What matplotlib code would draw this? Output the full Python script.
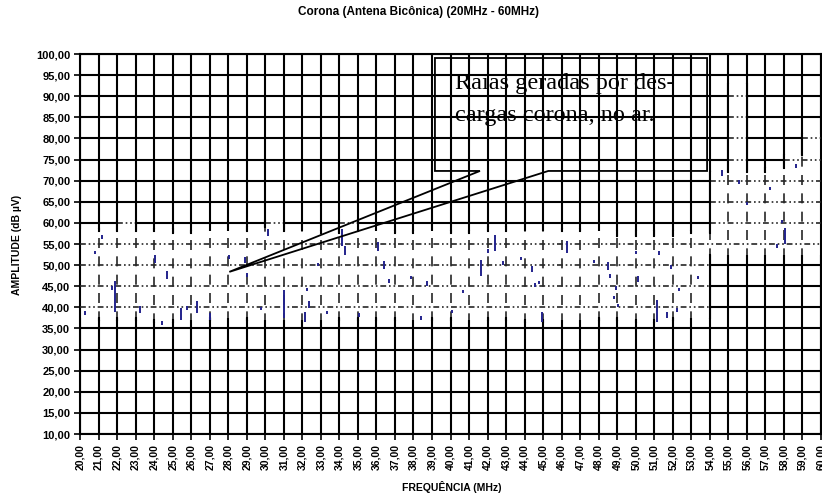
import matplotlib.pyplot as plt
import numpy as np
from matplotlib.patches import Polygon

plt.rcParams['font.family'] = ['Liberation Sans', 'DejaVu Sans']

freq_ticks = np.arange(20, 61, 1)
amp_ticks = np.arange(10, 101, 5)

# noise floor envelope, one value per 1 MHz bin (20-21 ... 59-60)
band_lo = [37.5, 37, 37.5, 37, 36.5, 37, 37, 37.5, 37.5, 37,
           37, 37, 37, 37, 37.5, 37, 37.5, 37, 37, 37.5,
           37, 37, 37.5, 37, 36.5, 37, 37, 37, 37.5, 37,
           36.5, 37, 37.5, 37.5,
           52.5, 52.5, 52.5, 52.5, 52.5, 52.5]
band_hi = [58.5, 58, 60.5, 58, 58.5, 57.5, 58, 58, 58, 59,
           60.5, 58, 58, 57.5, 60.5, 58, 58, 57.5, 58, 58,
           57.5, 58, 59, 58, 58, 58, 58.5, 58, 58, 57,
           58, 57, 58, 57.5,
           72, 93, 72, 73, 76, 81]

# corona lines (MHz, dBuV from - to)
spike_f = [21.2, 20.8, 20.25, 21.9, 21.75, 23.23, 24.05, 24.7, 24.45, 25.45,
           25.75, 26.3, 27.0, 28.02, 28.92, 29.0, 30.13, 29.75, 31.0, 32.25,
           32.38, 32.15, 33.32, 34.15, 34.3, 35.05, 36.08, 36.4, 36.7, 37.88,
           38.75, 38.42, 32.85, 40.07, 40.7, 41.66, 42.02, 42.42, 42.83, 43.8,
           44.42, 44.55, 44.8, 44.95, 46.3, 47.75, 48.5, 48.63, 48.95, 48.83,
           49.05, 50.04, 50.13, 51.25, 51.15, 51.7, 51.88, 52.33, 52.22, 53.37,
           54.64, 55.6, 57.25, 58.65, 56.0, 57.9, 58.05, 57.6]
spike_lo = [56.3, 52.6, 38.3, 39.0, 44.2, 38.7, 50.6, 46.7, 35.9, 37.1,
            39.4, 38.6, 37.1, 51.5, 50.6, 47.3, 57.0, 39.3, 37.5, 43.8,
            39.8, 36.6, 38.4, 54.5, 52.5, 37.8, 53.3, 49.1, 45.8, 46.6,
            45.1, 37.1, 49.7, 38.6, 43.4, 47.4, 52.9, 53.3, 50.1, 51.1,
            48.3, 44.9, 45.5, 36.6, 52.9, 50.4, 48.8, 47.0, 44.2, 42.0,
            40.1, 52.6, 45.9, 52.5, 36.6, 37.5, 49.1, 43.8, 39.0, 46.6,
            71.0, 69.3, 67.8, 73.1, 64.2, 60.0, 54.9, 54.1]
spike_hi = [57.1, 53.4, 39.1, 46.2, 45.0, 40.4, 52.5, 48.5, 36.7, 39.9,
            40.2, 41.4, 38.6, 52.5, 52.0, 48.1, 58.6, 40.1, 44.2, 44.6,
            41.4, 39.0, 39.2, 58.6, 54.5, 38.6, 55.4, 50.9, 46.6, 47.4,
            46.2, 37.9, 50.5, 39.4, 44.2, 51.3, 53.7, 57.2, 50.9, 51.9,
            49.7, 45.7, 46.3, 39.0, 55.7, 51.2, 50.7, 47.8, 45.0, 42.8,
            40.9, 53.4, 47.4, 53.3, 41.8, 39.0, 50.1, 44.6, 39.8, 47.4,
            72.5, 70.1, 68.6, 73.9, 65.0, 60.8, 58.8, 54.9]

fig = plt.figure(figsize=(8.22, 4.95), dpi=100)
ax = fig.add_axes([80 / 822, 1 - 434 / 495, 741 / 822, 380 / 495])

ax.set_xlim(20, 60)
ax.set_ylim(10, 100)
ax.set_xticks(freq_ticks)
ax.set_yticks(amp_ticks)
ax.set_xticklabels([f'{v:.2f}'.replace('.', ',') for v in freq_ticks],
                   rotation=90, fontsize=7.5, fontweight='bold')
ax.set_yticklabels([f'{v:.2f}'.replace('.', ',') for v in amp_ticks],
                   fontsize=8, fontweight='bold')
ax.tick_params(direction='out', length=4, width=1.2, pad=3)
ax.set_axisbelow(True)
ax.grid(True, color='black', linewidth=1.5)
for s in ax.spines.values():
    s.set_linewidth(1.5)

# white noise trace covering the grid
edges = np.arange(20, 61)
ax.fill_between(edges, band_lo + band_lo[-1:], band_hi + band_hi[-1:],
                step='post', color='white', linewidth=0, zorder=2)

# grid seen through the trace
dashdot = (0, (3.5, 1.7, 1, 1.7, 1, 1.7))
for lev in amp_ticks:
    run = None
    for i in range(40):
        inside = band_lo[i] < lev < band_hi[i]
        if inside and run is None:
            run = i
        if run is not None and (not inside or i == 39):
            end = i + 1 if inside else i
            ax.plot([20 + run, 20 + end], [lev, lev], color='#262626', lw=1.2,
                    ls=dashdot, zorder=3)
            run = None
for i in range(1, 40):
    lo_a, lo_b = sorted([band_lo[i - 1], band_lo[i]])
    hi_a, hi_b = sorted([band_hi[i - 1], band_hi[i]])
    ax.plot([20 + i, 20 + i], [lo_b, hi_a], color='#262626', lw=1.2,
            ls=(2, (6, 5)), zorder=3)
    # edge of the trace only on one side: line stays solid
    ax.plot([20 + i] * 2, [hi_a, hi_b], color='black', lw=1.5, zorder=3)
    ax.plot([20 + i] * 2, [lo_a, lo_b], color='black', lw=1.5, zorder=3)

ax.vlines(spike_f, spike_lo, spike_hi, color='#22228c', lw=1.4, zorder=4)

# callout
callout = Polygon([(41.59, 72.3), (39.16, 72.3), (39.16, 99.05), (53.85, 99.05),
                   (53.85, 72.3), (45.28, 72.3), (28.06, 48.4)],
                  closed=True, fill=False, edgecolor='black', lw=1.3, zorder=5)
ax.add_patch(callout)
ax.text(40.24, 93.1, 'Raias geradas por des-', family='Liberation Serif',
        fontsize=17.5, va='center', ha='left', zorder=6)
ax.text(40.24, 85.5, 'cargas corona, no ar.', family='Liberation Serif',
        fontsize=17.5, va='center', ha='left', zorder=6)

fig.text(418 / 822, 1 - 12 / 495, 'Corona (Antena Bicônica) (20MHz - 60MHz)',
         ha='center', va='center', fontsize=8.5, fontweight='bold')
fig.text(452 / 822, 1 - 487 / 495, 'FREQUÊNCIA (MHz)',
         ha='center', va='center', fontsize=7.5, fontweight='bold')
fig.text(17 / 822, 1 - 245 / 495, 'AMPLITUDE (dB µV)', rotation=90,
         ha='center', va='center', fontsize=7.5, fontweight='bold')

fig.savefig('out.png', dpi=100)
